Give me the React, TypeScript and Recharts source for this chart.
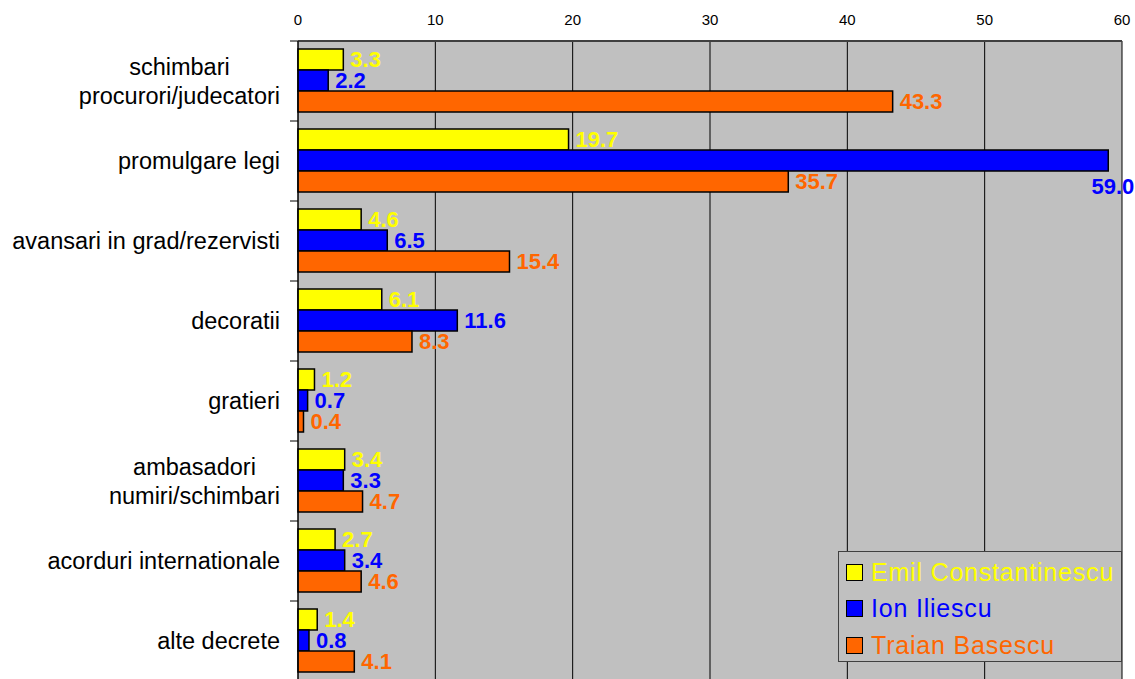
import React from 'react'
import { BarChart, Bar, XAxis, YAxis, CartesianGrid, Legend, LabelList } from 'recharts'

const categories = [
  'schimbari\nprocurori/judecatori',
  'promulgare legi',
  'avansari in grad/rezervisti',
  'decoratii',
  'gratieri',
  'ambasadori\nnumiri/schimbari',
  'acorduri internationale',
  'alte decrete',
]
const constantinescu = [3.3, 19.7, 4.6, 6.1, 1.2, 3.4, 2.7, 1.4]
const iliescu = [2.2, 59.0, 6.5, 11.6, 0.7, 3.3, 3.4, 0.8]
const basescu = [43.3, 35.7, 15.4, 8.3, 0.4, 4.7, 4.6, 4.1]
const xTicks = [0, 10, 20, 30, 40, 50, 60]

const series = [
  { key: 'Emil Constantinescu', values: constantinescu, color: '#FFFF00' },
  { key: 'Ion Iliescu', values: iliescu, color: '#0000FF' },
  { key: 'Traian Basescu', values: basescu, color: '#FF6600' },
]

const data = categories.map((name, i) => {
  const row: any = { name }
  series.forEach(s => { row[s.key] = s.values[i] })
  return row
})

if (typeof document !== 'undefined') {
  document.body.style.margin = '0'
  document.body.style.overflow = 'hidden'
}

const FONT = '"Liberation Sans", Arial, sans-serif'
const W = 1135
const H = 681
const TOP = 41
const CAT_SIZE = 23.5
const BAND_HALF = (H - TOP) / categories.length / 2

let ctx: CanvasRenderingContext2D | null = null
const measure = (s: string) => {
  if (!ctx) ctx = document.createElement('canvas').getContext('2d')
  if (!ctx) return s.length * 11
  ctx.font = `${CAT_SIZE}px "Liberation Sans"`
  return ctx.measureText(s).width
}

const CategoryTick = (props: any) => {
  const { x, y, payload, index } = props
  const lines = String(payload.value).split('\n')
  const maxW = Math.max(...lines.map(measure))
  const right = x - 18
  const cx = right - maxW / 2
  const lh = 29
  const y0 = y - ((lines.length - 1) * lh) / 2
  return (
    <g>
      <line x1={x - 8} x2={x} y1={y - BAND_HALF} y2={y - BAND_HALF} stroke="#000" />
      {index === categories.length - 1 && (
        <line x1={x - 8} x2={x} y1={y + BAND_HALF} y2={y + BAND_HALF} stroke="#000" />
      )}
      <text fontFamily={FONT} fontSize={CAT_SIZE} fill="#000" textAnchor="middle">
        {lines.map((l, i) => (
          <tspan key={i} x={cx} y={y0 + i * lh} dy="0.35em">{l}</tspan>
        ))}
      </text>
    </g>
  )
}

const makeLabel = (color: string) => (props: any) => {
  const { x, y, width, height, value } = props
  const v = Number(value).toFixed(1)
  if (Number(value) > 55) {
    return (
      <text x={x + width + 26} y={y + height + 15} dy="0.35em" textAnchor="end"
        fontFamily={FONT} fontSize={22} fontWeight="bold" fill={color}>{v}</text>
    )
  }
  return (
    <text x={x + width + 7} y={y + height / 2} dy="0.36em" textAnchor="start"
      fontFamily={FONT} fontSize={22} fontWeight="bold" fill={color}>{v}</text>
  )
}

const LegendBox = () => (
  <div style={{
    width: 284, height: 111, boxSizing: 'border-box', background: '#c0c0c0',
    border: '1px solid #404040', fontFamily: FONT, fontSize: 25, paddingTop: 2,
  }}>
    {series.map(s => (
      <div key={s.key} style={{ display: 'flex', alignItems: 'center', height: 36.5, paddingLeft: 7 }}>
        <span style={{
          display: 'inline-block', width: 15, height: 15, background: s.color,
          border: '1px solid #000', marginRight: 8,
        }} />
        <span style={{ color: s.color, letterSpacing: 0.8 }}>{s.key}</span>
      </div>
    ))}
  </div>
)

export default function App() {
  return (
    <div style={{ width: W, height: 679, overflow: 'hidden', background: '#fff' }}>
      <BarChart width={W} height={H} data={data} layout="vertical"
        margin={{ top: 0, right: 13, bottom: 0, left: 0 }}
        barCategoryGap="10%" barGap={0}>
        <CartesianGrid horizontal={false} stroke="#000" fill="#c0c0c0" fillOpacity={1} />
        <XAxis type="number" orientation="top" domain={[0, 60]} ticks={xTicks}
          height={TOP} tickSize={0} tickMargin={16} axisLine={{ stroke: '#404040', strokeWidth: 2 }}
          tick={{ fontFamily: FONT, fontSize: 15, fill: '#000' }} />
        <YAxis type="category" dataKey="name" width={298} tickSize={0} tickMargin={0}
          axisLine={{ stroke: '#000' }} tickLine={false} tick={<CategoryTick />} interval={0} />
        <Legend layout="vertical" align="center" verticalAlign="middle"
          wrapperStyle={{ position: 'absolute', left: 838, top: 551, width: 284, height: 111 }}
          content={() => <LegendBox />} />
        {series.map(s => (
          <Bar key={s.key} dataKey={s.key} fill={s.color} stroke="#000" strokeWidth={1.5}
            isAnimationActive={false}>
            <LabelList dataKey={s.key} content={makeLabel(s.color)} />
          </Bar>
        ))}
      </BarChart>
    </div>
  )
}
